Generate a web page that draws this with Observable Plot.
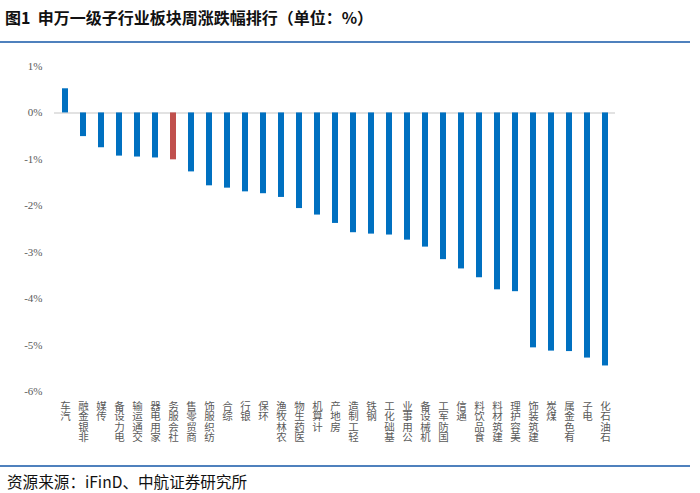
<!DOCTYPE html>
<html>
<head>
<meta charset="utf-8">
<script src="https://cdn.jsdelivr.net/npm/d3@7"></script>
<script src="https://cdn.jsdelivr.net/npm/@observablehq/plot@0.6"></script>
<style>
  html, body { margin: 0; padding: 0; background: #fff; }
  #wrap { position: relative; width: 700px; height: 493px; overflow: hidden; }
  #title { position: absolute; left: 5px; top: 7px; font-family: "Noto Sans CJK SC", sans-serif; font-weight: 700; font-size: 16px; line-height: 20px; color: #111; white-space: nowrap; }
  #topline { position: absolute; left: 0; top: 41px; width: 690px; height: 2px; background: #4f81bd; }
  #chart { position: absolute; left: 0; top: 44px; }
  #botline { position: absolute; left: 0; top: 465px; width: 690px; height: 2px; background: #4f81bd; }
  #caption { position: absolute; left: 7px; top: 471px; font-family: "Noto Sans CJK SC", serif; font-size: 15.6px; line-height: 20px; color: #111; white-space: nowrap; }
  .xlab text { writing-mode: vertical-rl; text-orientation: upright; }
</style>
</head>
<body>
<div id="wrap">
  <div id="title">图1&nbsp;&nbsp;申万一级子行业板块周涨跌幅排行（单位：%）</div>
  <div id="topline"></div>
  <div id="chart"></div>
  <div id="botline"></div>
  <div id="caption">资源来源：iFinD、中航证券研究所</div>
</div>
<script>
const categories = ["汽车","非银金融","传媒","电力设备","交通运输","家用电器","社会服务","商贸零售","纺织服饰","综合","银行","环保","农林牧渔","医药生物","计算机","房地产","轻工制造","钢铁","基础化工","公用事业","机械设备","国防军工","通信","食品饮料","建筑材料","美容护理","建筑装饰","煤炭","有色金属","电子","石油石化"];
const values = [0.52,-0.51,-0.75,-0.93,-0.95,-0.97,-1.01,-1.27,-1.57,-1.62,-1.70,-1.74,-1.82,-2.06,-2.20,-2.38,-2.58,-2.61,-2.63,-2.74,-2.89,-3.16,-3.36,-3.55,-3.81,-3.85,-5.06,-5.13,-5.14,-5.28,-5.45];
const highlight = "社会服务";
const yTicks = [1,0,-1,-2,-3,-4,-5,-6];

const data = categories.map((name, i) => ({name, value: values[i]}));

const chart = Plot.plot({
  width: 700,
  height: 421,
  marginLeft: 54,
  marginRight: 85,
  marginTop: 22,
  marginBottom: 74,
  style: {background: "#fff"},
  x: {domain: categories, paddingInner: 0.67, paddingOuter: 0, axis: null},
  y: {domain: [-6, 1], label: null, axis: null},
  marks: [
    Plot.axisY({ticks: yTicks, tickSize: 0, tickPadding: 12, tickFormat: d => `${d}%`, fontSize: 11, fill: "#595959", fontFamily: "Liberation Serif, serif", label: null}),
    Plot.ruleY([0], {stroke: "#d9d9d9", strokeWidth: 1.5}),
    Plot.barY(data, {x: "name", y: "value", fill: d => d.name === highlight ? "#c0504d" : "#0070c0"}),
    Plot.text(data, {
      x: "name",
      text: d => [...d.name].reverse().join(""),
      frameAnchor: "bottom",
      textAnchor: "start",
      dy: 9,
      fontSize: 10.5,
      fill: "#595959",
      fontFamily: "Noto Sans CJK SC, sans-serif",
      className: "xlab"
    })
  ]
});
chart.querySelectorAll(".xlab text").forEach(t => t.removeAttribute("dy"));
document.getElementById("chart").appendChild(chart);
</script>
</body>
</html>
